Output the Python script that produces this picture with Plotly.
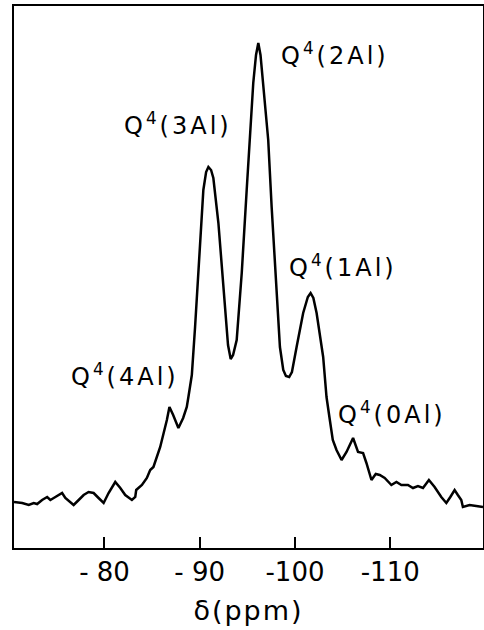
import plotly.graph_objects as go

# Chemical shift (ppm) and intensity (arbitrary units)
shift_ppm = [-70.50, -71.36, -72.05, -72.57, -72.93, -73.45, -73.98, -74.32, -74.67, -75.19,
             -75.55, -75.89, -76.42, -76.76, -77.29, -77.81, -78.33, -78.86, -79.38, -79.91,
             -80.43, -81.13, -81.66, -82.18, -82.88, -83.23, -83.33, -83.93, -84.45, -84.80,
             -85.14, -85.85, -86.55, -86.82, -87.21, -87.76, -88.26, -88.64, -88.81, -89.17,
             -89.51, -90.04, -90.38, -90.67, -90.91, -91.19, -91.43, -91.96, -92.66, -92.97,
             -93.25, -93.50, -93.88, -94.41, -94.93, -95.28, -95.62, -95.91, -96.15, -96.38,
             -96.67, -97.19, -97.55, -98.07, -98.42, -98.77, -99.05, -99.39, -99.68, -100.17,
             -100.86, -101.35, -101.64, -101.93, -102.27, -102.96, -103.31, -103.66, -103.97, -104.36,
             -104.89, -105.41, -106.10, -106.62, -107.15, -107.50, -108.03, -108.48, -108.90, -109.42,
             -110.12, -110.65, -111.17, -111.86, -112.39, -112.91, -113.44, -114.06, -114.66, -115.36,
             -115.89, -116.31, -116.76, -117.10, -117.46, -117.63, -118.33, -119.03, -119.74]
intensity = [46, 45, 43, 45, 44, 48, 51, 48, 50, 53,
             55, 50, 46, 43, 48, 53, 56, 55, 50, 45,
             55, 66, 60, 53, 48, 51, 58, 63, 70, 78,
             81, 101, 128, 141, 133, 120, 130, 141, 151, 173,
             221, 308, 358, 376, 381, 378, 370, 325, 241, 203,
             189, 193, 208, 275, 358, 408, 465, 493, 505, 493,
             465, 408, 341, 258, 201, 178, 172, 171, 176, 201,
             235, 251, 255, 250, 235, 191, 151, 128, 108, 98,
             88, 96, 110, 96, 95, 85, 68, 74, 73, 70,
             63, 66, 63, 63, 60, 62, 60, 68, 61, 51,
             45, 51, 58, 53, 48, 41, 43, 42, 41]

tick_vals = [-80, -90, -100, -110]
tick_text = ["- 80", "- 90", "-100", "-110"]
x_title = "δ(ppm)"

peak_labels = ["Q<sup>4</sup>(2Al)", "Q<sup>4</sup>(3Al)", "Q<sup>4</sup>(1Al)",
               "Q<sup>4</sup>(4Al)", "Q<sup>4</sup>(0Al)"]
label_ppm = [-104.18, -87.73, -105.02, -82.18, -110.16]
label_int = [494, 424, 282, 173, 135]

FONT = "DejaVu Sans, Verdana, sans-serif"

fig = go.Figure()
fig.add_trace(go.Scatter(x=shift_ppm, y=intensity, mode="lines",
                         line=dict(color="black", width=2.5), showlegend=False,
                         hoverinfo="skip"))

for t, xp, yp in zip(peak_labels, label_ppm, label_int):
    fig.add_annotation(x=xp, y=yp, text='<span style="letter-spacing:3px">' + t + '</span>',
                       showarrow=False,
                       font=dict(family=FONT, size=24, color="black"),
                       xanchor="center", yanchor="middle")

fig.update_layout(
    width=484, height=630,
    margin=dict(l=14, r=1, t=6, b=82),
    paper_bgcolor="white", plot_bgcolor="white",
    xaxis=dict(range=[-70.5, -119.74], tickvals=tick_vals, ticktext=tick_text,
               ticks="inside", ticklen=11, tickwidth=2, tickcolor="black",
               showline=True, linewidth=2, linecolor="black", mirror=True,
               showgrid=False, zeroline=False, automargin=False,
               tickfont=dict(family=FONT, size=26, color="black"),
               title=dict(text='<span style="letter-spacing:2px">' + x_title + '</span>',
                          font=dict(family=FONT, size=27, color="black"))),
    yaxis=dict(range=[0, 542], showticklabels=False, ticks="",
               showline=True, linewidth=2, linecolor="black", mirror=True,
               showgrid=False, zeroline=False, automargin=False),
)

fig.write_html("out.html", config={"displayModeBar": False},
               post_script="document.body.style.margin='0';document.body.style.padding='0';")
